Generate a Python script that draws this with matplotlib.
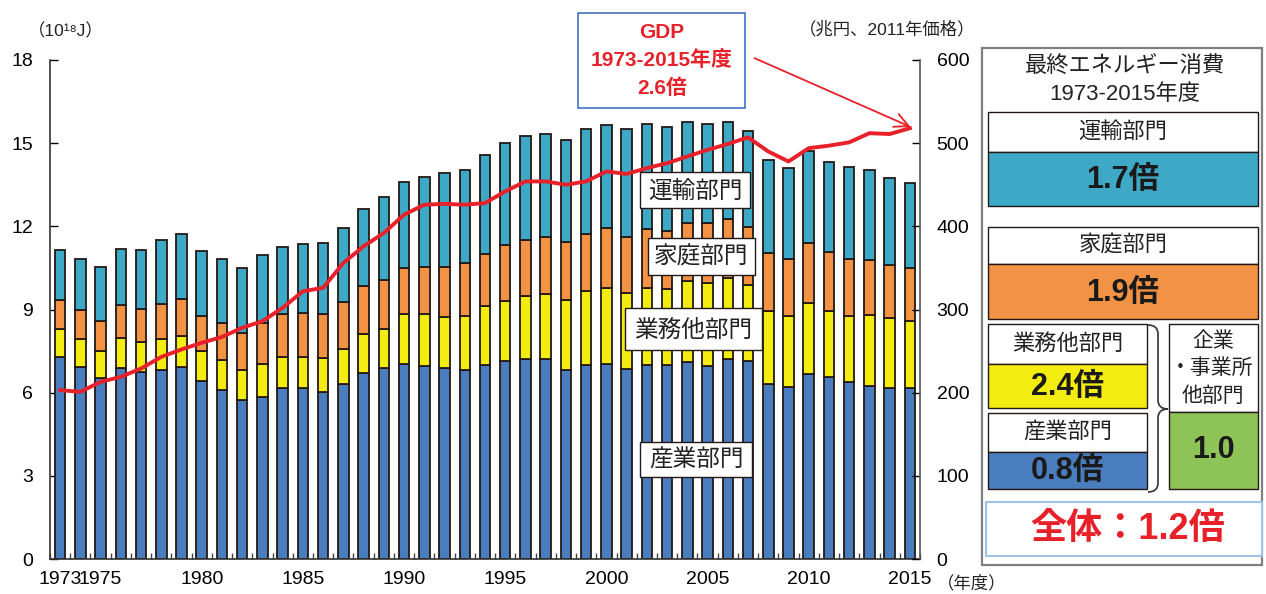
import numpy as np
import matplotlib
matplotlib.use("Agg")
import matplotlib.pyplot as plt
from matplotlib.patches import Rectangle, PathPatch, FancyArrowPatch
from matplotlib.path import Path

plt.rcParams['font.family'] = ['Liberation Sans', 'Noto Sans CJK JP', 'DejaVu Sans']

# ---------------- data ----------------
years = list(range(1973, 2016))
industry = [7.30, 6.94, 6.52, 6.88, 6.73, 6.80, 6.92, 6.43, 6.10, 5.74,
            5.86, 6.16, 6.16, 6.04, 6.32, 6.70, 6.88, 7.04, 6.97, 6.88,
            6.82, 7.00, 7.15, 7.22, 7.22, 6.82, 6.98, 7.04, 6.85, 7.00,
            7.00, 7.09, 6.97, 7.22, 7.15, 6.32, 6.20, 6.67, 6.55, 6.37,
            6.25, 6.16, 6.16]
commercial = [1.00, 1.00, 0.99, 1.09, 1.09, 1.13, 1.14, 1.08, 1.08, 1.08,
              1.18, 1.14, 1.14, 1.20, 1.26, 1.41, 1.42, 1.79, 1.86, 1.85,
              1.95, 2.11, 2.16, 2.27, 2.35, 2.53, 2.67, 2.73, 2.73, 2.77,
              2.74, 2.95, 2.98, 2.91, 2.74, 2.64, 2.58, 2.58, 2.41, 2.40,
              2.56, 2.53, 2.44]
residential = [1.03, 1.05, 1.06, 1.20, 1.19, 1.26, 1.33, 1.26, 1.35, 1.33,
               1.49, 1.54, 1.57, 1.59, 1.69, 1.72, 1.77, 1.66, 1.72, 1.82,
               1.90, 1.90, 2.03, 2.03, 2.03, 2.08, 2.08, 2.17, 2.04, 2.13,
               2.10, 2.08, 2.17, 2.13, 2.07, 2.08, 2.04, 2.15, 2.10, 2.05,
               1.96, 1.92, 1.89]
transport = [1.82, 1.83, 1.98, 2.02, 2.14, 2.30, 2.33, 2.35, 2.29, 2.33,
             2.42, 2.40, 2.49, 2.57, 2.67, 2.79, 2.99, 3.10, 3.22, 3.37,
             3.37, 3.55, 3.67, 3.73, 3.73, 3.70, 3.78, 3.73, 3.88, 3.80,
             3.74, 3.63, 3.58, 3.49, 3.49, 3.36, 3.28, 3.30, 3.26, 3.32,
             3.25, 3.13, 3.07]
gdp = [203, 201, 213, 219, 229, 243, 252, 260, 267, 278,
       286, 302, 322, 326, 356, 376, 392, 414, 426, 427,
       426, 428, 442, 454, 454, 450, 454, 466, 463, 470,
       476, 484, 492, 499, 507, 490, 478, 494, 497, 501,
       512, 511, 518]
xtick_years = [1973, 1975, 1980, 1985, 1990, 1995, 2000, 2005, 2010, 2015]
left_ticks = [0, 3, 6, 9, 12, 15, 18]
right_ticks = [0, 100, 200, 300, 400, 500, 600]

sector_labels = ['産業部門', '業務他部門', '家庭部門', '運輸部門']

# ---------------- style ----------------
C_BLUE = '#4a7dbd'
C_YEL = '#f3ec10'
C_ORG = '#f29245'
C_TEAL = '#3ea9c7'
C_GREEN = '#8ec457'
C_RED = '#e8202a'
EDGE = '#231815'

W, H = 1266, 594
fig = plt.figure(figsize=(W / 100, H / 100), dpi=100)

def fx(x):
    return x / W

def fy(y):
    return 1 - y / H

L, R, T, B = 50, 920, 60, 559
ax = fig.add_axes([fx(L), fy(B), (R - L) / W, (B - T) / H])
ax2 = ax.twinx()

yrs = np.array(years)
bottom = np.zeros(len(years))
for vals, col in [(industry, C_BLUE), (commercial, C_YEL),
                  (residential, C_ORG), (transport, C_TEAL)]:
    ax.bar(yrs, vals, width=0.52, bottom=bottom, color=col,
           edgecolor=EDGE, linewidth=1.3, zorder=2)
    bottom = bottom + np.array(vals)

ax.set_xlim(1972.5, 2015.5)
ax.set_ylim(0, 18)
ax.set_yticks(left_ticks)
ax.set_xticks(xtick_years)
ax.set_xticks(np.arange(1972.5, 2016, 1.0), minor=True)
ax.tick_params(axis='x', which='major', length=0, labelsize=14, pad=9)
ax.tick_params(axis='x', which='minor', direction='in', length=4, width=1, color='#444')
ax.tick_params(axis='y', direction='in', length=6, width=1, labelsize=14, pad=12)
for s in ['top', 'right']:
    ax.spines[s].set_visible(False)
ax.spines['left'].set_color('#333')
ax.spines['bottom'].set_color('#333')
ax.spines['left'].set_linewidth(1.2)
ax.spines['bottom'].set_linewidth(1.2)

ax2.plot(yrs, gdp, color=C_RED, linewidth=2.8, solid_joinstyle='round', zorder=3)
ax2.set_ylim(0, 600)
ax2.set_yticks(right_ticks)
ax2.tick_params(axis='y', direction='in', length=6, width=1, labelsize=14, pad=12)
for s in ['top', 'left', 'bottom']:
    ax2.spines[s].set_visible(False)
ax2.spines['right'].set_color('#555')
ax2.spines['right'].set_linewidth(1.2)

# ---------------- overlay in pixel coordinates ----------------
ov = fig.add_axes([0, 0, 1, 1], zorder=10)
ov.set_xlim(0, W)
ov.set_ylim(H, 0)
ov.axis('off')
ov.patch.set_alpha(0)

ov.text(28, 31, '（10¹⁸J）', fontsize=12.5, ha='left', va='center', color='#222')
ov.text(975, 29, '（兆円、2011年価格）', fontsize=12.5, ha='right', va='center', color='#222')
ov.text(937, 583, '（年度）', fontsize=12.5, ha='left', va='center', color='#222')

def rect(x0, y0, x1, y1, fc='white', ec=EDGE, lw=1.0, z=1):
    ov.add_patch(Rectangle((x0, y0), x1 - x0, y1 - y0, facecolor=fc,
                           edgecolor=ec, linewidth=lw, zorder=z))

# in-chart labels
for (x0, y0, x1, y1, txt) in [(640, 172, 750, 208, sector_labels[3]),
                              (648, 238, 755, 275, sector_labels[2]),
                              (625, 308, 762, 350, sector_labels[1]),
                              (640, 442, 752, 477, sector_labels[0])]:
    rect(x0, y0, x1, y1, lw=1.0)
    ov.text((x0 + x1) / 2, (y0 + y1) / 2 + 1, txt, fontsize=17, ha='center',
            va='center', color='#222', family='Noto Sans CJK JP', zorder=3)

# GDP box
rect(578, 13, 745, 108, ec='#4472c4', lw=1.2)
for yy, t in [(32, 'GDP'), (60, '1973-2015年度'), (88, '2.6倍')]:
    ov.text(662, yy, t, fontsize=15, fontweight='bold', color=C_RED,
            ha='center', va='center', zorder=3)
ov.add_patch(FancyArrowPatch((752, 57), (913, 128), arrowstyle='->,head_length=10,head_width=5',
                             color=C_RED, linewidth=1.3, zorder=4))

# right panel
rect(982, 48, 1262, 565, ec='#7f7f7f', lw=1.6)
ov.text(1125, 67, '最終エネルギー消費', fontsize=16, ha='center', va='center', color='#222')
ov.text(1125, 95, '1973-2015年度', fontsize=16, ha='center', va='center', color='#222')

def sector_box(x0, x1, y0, ym, y1, label, val, col):
    rect(x0, y0, x1, ym, fc='white', lw=1.0)
    rect(x0, ym, x1, y1, fc=col, lw=1.0)
    ov.text((x0 + x1) / 2, (y0 + ym) / 2, label, fontsize=16, ha='center',
            va='center', color='#222', zorder=3)
    ov.text((x0 + x1) / 2, (ym + y1) / 2 + 1, val, fontsize=22, fontweight='bold',
            ha='center', va='center', color='#1a1a1a', zorder=3)

sector_box(988, 1258, 112, 152, 206, '運輸部門', '1.7倍', C_TEAL)
sector_box(988, 1258, 227, 264, 319, '家庭部門', '1.9倍', C_ORG)
sector_box(988, 1147, 324, 364, 408, '業務他部門', '2.4倍', C_YEL)
sector_box(988, 1147, 413, 452, 489, '産業部門', '0.8倍', C_BLUE)

# enterprise box
rect(1169, 324, 1258, 412, fc='white', lw=1.0)
rect(1169, 412, 1258, 489, fc=C_GREEN, lw=1.0)
ov.text(1213, 341, '企業', fontsize=15, ha='center', va='center', color='#222', zorder=3)
ov.text(1211, 368, '・事業所', fontsize=15, ha='center', va='center', color='#222', zorder=3)
ov.text(1213, 396, '他部門', fontsize=15, ha='center', va='center', color='#222', zorder=3)
ov.text(1213, 450, '1.0', fontsize=22, fontweight='bold', ha='center', va='center',
        color='#1a1a1a', zorder=3)

# brace
bx0, bw, yt, ym, yb, r = 1148, 20, 325, 409, 492, 9
verts = [(bx0, yt), (bx0 + bw / 2, yt), (bx0 + bw / 2, yt + r),
         (bx0 + bw / 2, ym - r),
         (bx0 + bw / 2, ym), (bx0 + bw, ym),
         (bx0 + bw / 2, ym), (bx0 + bw / 2, ym + r),
         (bx0 + bw / 2, yb - r),
         (bx0 + bw / 2, yb), (bx0, yb)]
codes = [Path.MOVETO, Path.CURVE3, Path.CURVE3, Path.LINETO,
         Path.CURVE3, Path.CURVE3, Path.CURVE3, Path.CURVE3,
         Path.LINETO, Path.CURVE3, Path.CURVE3]
ov.add_patch(PathPatch(Path(verts, codes), facecolor='none', edgecolor='#333',
                       linewidth=1.2, zorder=3))

# total box
rect(986, 502, 1262, 556, fc='white', ec='#9dc3e6', lw=1.5)
ov.text(1128, 530, '全体：1.2倍', fontsize=26, fontweight='bold', ha='center',
        va='center', color=C_RED, zorder=3)

fig.savefig('out.png', dpi=100)
